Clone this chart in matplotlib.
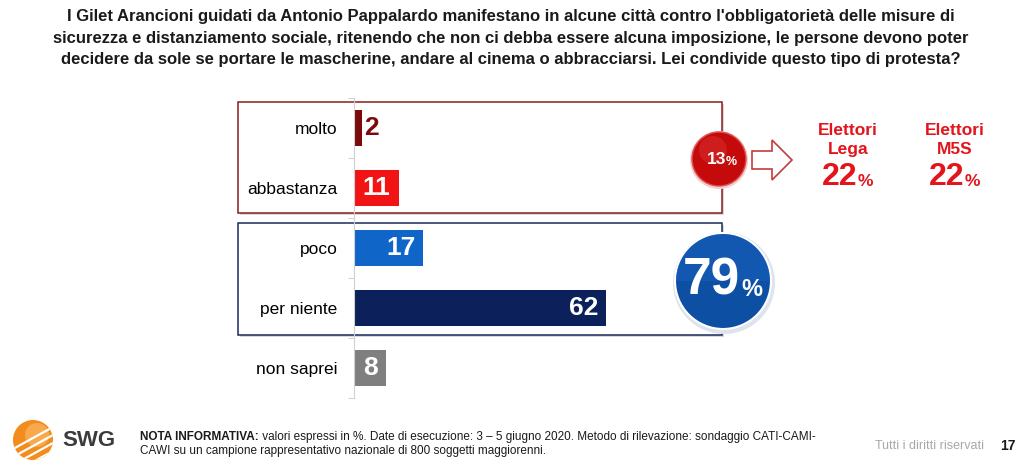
import numpy as np
import matplotlib.pyplot as plt
from matplotlib.patches import Rectangle, Circle, Polygon, Wedge

plt.rcParams['font.family'] = ['Liberation Sans', 'DejaVu Sans']

# data
categories = ['molto', 'abbastanza', 'poco', 'per niente', 'non saprei']
values = [2, 11, 17, 62, 8]
bar_colors = ['#7d0a0a', '#f21414', '#0f66c8', '#0c215c', '#7f7f7f']
total_yes = 13
total_no = 79
voter_groups = ['Elettori\nLega', 'Elettori\nM5S']
voter_values = [22, 22]

title = ("I Gilet Arancioni guidati da Antonio Pappalardo manifestano in alcune città contro l'obbligatorietà delle misure di\n"
         "sicurezza e distanziamento sociale, ritenendo che non ci debba essere alcuna imposizione, le persone devono poter\n"
         "decidere da sole se portare le mascherine, andare al cinema o abbracciarsi. Lei condivide questo tipo di protesta?")

W, H = 1022, 470
fig = plt.figure(figsize=(W / 100, H / 100), dpi=100)

# overlay in pixel coordinates for boxes, circles and footer
ov = fig.add_axes([0, 0, 1, 1], zorder=0)
ov.set_xlim(0, W)
ov.set_ylim(H, 0)
ov.axis('off')

# bar axes: x=0 at 354px, ~4.06 px per unit, rows every 60px
x0, px_unit = 354, 4.06
top, row_h = 98, 60
ax = fig.add_axes([x0 / W, 1 - (top + 5 * row_h) / H, 100 * px_unit / W, 5 * row_h / H], zorder=1)
ax.patch.set_alpha(0)
y = np.arange(len(categories))
ax.barh(y, values, height=0.6, color=bar_colors)
ax.set_xlim(0, 100)
ax.set_ylim(4.5, -0.5)
ax.set_yticks(y)
ax.set_yticklabels(categories, fontsize=12.5)
ax.set_xticks([])
ax.set_yticks(np.arange(-0.5, 5, 1), minor=True)
ax.tick_params(axis='y', which='major', length=0, pad=12)
ax.tick_params(axis='y', which='minor', length=4, color='#c8c8c8', direction='out')
for s in ['top', 'right', 'bottom']:
    ax.spines[s].set_visible(False)
ax.spines['left'].set_color('#d0d0d0')

for i, v in enumerate(values):
    if v < 5:
        ax.text(v + 0.4, i, str(v), va='center', ha='left', fontsize=19,
                fontweight='bold', color=bar_colors[i])
    elif v <= 11:
        ax.text(v / 2, i, str(v), va='center', ha='center', fontsize=19,
                fontweight='bold', color='white')
    else:
        ax.text(v - 1.7, i, str(v), va='center', ha='right', fontsize=19,
                fontweight='bold', color='white')

# group boxes
for (yt, yb, ec) in [(102, 213, '#8b1c1c'), (223, 335, '#1c2a5c')]:
    ov.add_patch(Rectangle((240, yt + 2), 484, yb - yt, facecolor='#d8d8d8', edgecolor='none', zorder=1))
    ov.add_patch(Rectangle((238, yt), 484, yb - yt, facecolor='white', edgecolor=ec, lw=1.1, zorder=2))

# 13% circle
ov.add_patch(Circle((719, 160), 29, facecolor='#f0d0d0', edgecolor='none', zorder=3))
ov.add_patch(Circle((719, 159), 27, facecolor='#c40a0a', edgecolor='#e05050', lw=1, zorder=4))
ov.add_patch(Circle((713, 150), 14, facecolor='#d83030', edgecolor='none', alpha=0.5, zorder=4))
ov.text(726, 160, f'{total_yes}', ha='right', va='center', fontsize=12.5, fontweight='bold', color='white', zorder=5)
ov.text(726, 162, '%', ha='left', va='center', fontsize=9, fontweight='bold', color='white', zorder=5)

# hollow arrow
arrow = [(752, 151), (772, 151), (772, 140), (792, 160), (772, 180), (772, 169), (752, 169)]
ov.add_patch(Polygon(arrow, closed=True, facecolor='white', edgecolor='#c83a3a', lw=1.2, zorder=4))

# voter groups
for gx, grp, val in zip([848, 955], voter_groups, voter_values):
    ov.text(gx, 140, grp, ha='center', va='center', fontsize=12.5, fontweight='bold',
            color='#e3141b', linespacing=1.35)
    ov.text(gx + 9, 177, f'{val}', ha='right', va='center', fontsize=23, fontweight='bold', color='#e3141b')
    ov.text(gx + 10, 182, '%', ha='left', va='center', fontsize=12.5, fontweight='bold', color='#e3141b')

# 79% circle
ov.add_patch(Circle((724, 283), 51, facecolor='#dde4ee', edgecolor='none', zorder=3))
ov.add_patch(Circle((723, 281), 48, facecolor='#0d4fa3', edgecolor='white', lw=1.5, zorder=4))
ov.add_patch(Wedge((723, 281), 47, 180, 360, facecolor='#1a62c0', edgecolor='none', alpha=0.45, zorder=4))
ov.text(740, 281, f'{total_no}', ha='right', va='center', fontsize=37, fontweight='bold', color='white', zorder=5)
ov.text(741, 290, '%', ha='left', va='center', fontsize=17, fontweight='bold', color='white', zorder=5)

# title
fig.text(0.5, 1 - 38 / H, title, ha='center', va='center', fontsize=12, fontweight='bold',
         color='#1a1a1a', linespacing=1.55)

# footer: SWG logo (orange sphere with white bands)
sphere = Circle((33, 440), 20, facecolor='#f28c1c', edgecolor='none', zorder=2)
ov.add_patch(sphere)
glow = Circle((37, 435), 12, facecolor='#f7a94c', edgecolor='none', zorder=2)
ov.add_patch(glow)
for off in [-14, -6, 2, 10]:
    xs = np.array([10, 60])
    band, = ov.plot(xs, 440 + off + (xs - 33) * -0.55 + 12, color='white', lw=1.6, zorder=3)
    band.set_clip_path(sphere)
ov.text(62, 441, 'SWG', ha='left', va='center', fontsize=16, fontweight='bold', color='#3c3c3c')

t1 = ov.text(140, 437, 'NOTA INFORMATIVA:', ha='left', va='center', fontsize=8.5, fontweight='bold',
             color='#1a1a1a')
ov.annotate(' valori espressi in %. Date di esecuzione: 3 – 5 giugno 2020. Metodo di rilevazione: sondaggio CATI-CAMI-',
            xy=(1, 0.5), xycoords=t1, ha='left', va='center', fontsize=8.5, color='#1a1a1a')
ov.text(140, 451, 'CAWI su un campione rappresentativo nazionale di 800 soggetti maggiorenni.',
        ha='left', va='center', fontsize=8.5, color='#1a1a1a')
ov.text(984, 446, 'Tutti i diritti riservati', ha='right', va='center', fontsize=9, color='#a8a8a8')
ov.text(1000, 446, '17', ha='left', va='center', fontsize=10, fontweight='bold', color='#1a1a1a')

fig.savefig('out.png', dpi=100, facecolor='white')
